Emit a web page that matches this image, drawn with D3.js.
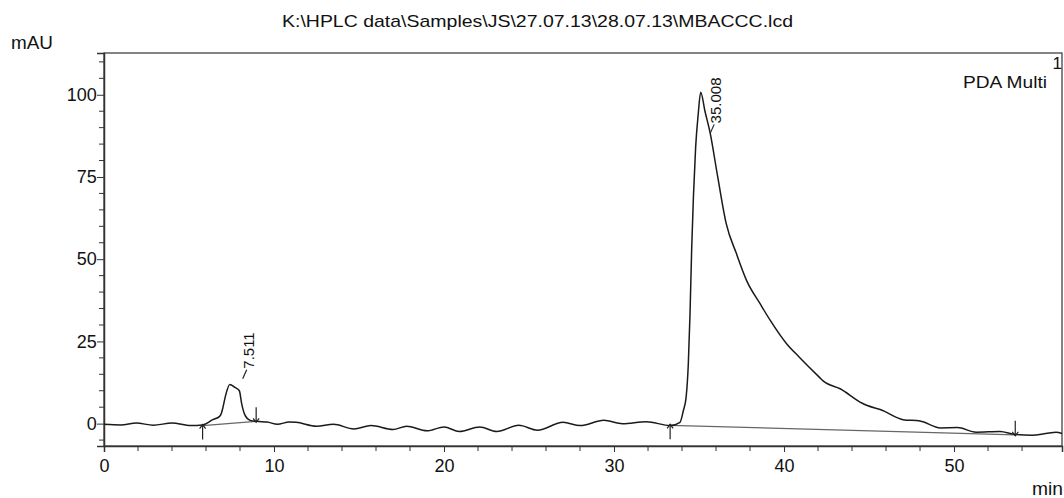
<!DOCTYPE html>
<html>
<head>
<meta charset="utf-8">
<script src="https://cdn.jsdelivr.net/npm/d3@7"></script>
<style>
  body { margin: 0; background: #fff; }
  text { font-family: "Liberation Sans", Arial, sans-serif; fill: #111; }
</style>
</head>
<body>
<div id="chart"></div>
<script>
const timeMin = [0, 1.0, 1.9, 2.9, 4.0, 5.1, 5.8, 6.4, 6.8, 6.9, 7.0, 7.15, 7.4, 7.7, 7.96, 8.1, 8.3, 8.6, 8.98, 9.6, 10.2, 10.9, 11.3, 12.5, 13.5, 14.7, 15.7, 17.0, 17.8, 19.0, 20.0, 20.9, 22.1, 23.1, 24.4, 25.5, 27.0, 28.0, 29.4, 30.5, 31.9, 33.3, 33.88, 34.08, 34.24, 34.37, 34.47, 34.57, 34.67, 34.8, 34.95, 35.1, 35.35, 35.65, 36.1, 36.6, 37.2, 37.8, 38.6, 39.2, 40.15, 40.9, 42.1, 42.3, 43.3, 44.6, 44.9, 45.7, 47.0, 48.0, 49.2, 50.2, 51.3, 52.7, 53.6, 54.6, 55.4, 56.0, 56.35];
const signalMAU = [-0.2, -0.4, 0.2, -0.5, 0.2, -0.6, -0.4, 1.2, 2.2, 3.1, 5.0, 8.5, 11.9, 11.0, 10.0, 6.0, 2.5, 1.0, 0.7, 0.5, -0.2, 0.5, 0.4, -0.8, -0.2, -1.6, -0.6, -1.8, -0.8, -2.2, -1.0, -2.4, -1.0, -2.4, -0.5, -2.0, 0.4, -0.6, 1.0, 0.0, 0.6, -0.6, 0.4, 4.0, 8.0, 18.2, 33.4, 53.6, 68.9, 84.0, 94.0, 100.8, 95.0, 88.5, 75.0, 60.8, 51.7, 43.5, 36.4, 31.3, 24.3, 20.2, 14.0, 13.0, 10.6, 6.2, 5.5, 4.2, 1.2, 0.8, -1.3, -1.2, -2.6, -2.4, -3.3, -3.5, -3.0, -2.6, -3.0];

// lineas base de integracion [t, mAU] inicio y fin
const baseStart = [[5.8, -0.6], [33.3, -0.5]];
const baseEnd = [[8.95, 0.7], [53.6, -3.4]];

// etiquetas de picos
const peakTimes = [7.511, 35.008];
const peakLabels = ["7.511", "35.008"];
const peakLabelY = [16.7, 91.3]; // mAU donde empieza el texto

const xTicks = [0, 10, 20, 30, 40, 50];
const yTicks = [0, 25, 50, 75, 100];

const W = 1064, H = 498;
const MARGIN = { top: 53, bottom: 52, left: 104, right: 2 };

const svg = d3.select("#chart").append("svg").attr("width", W).attr("height", H);

const x = d3.scaleLinear().domain([0, 56.35]).range([MARGIN.left, W - MARGIN.right]);
const y = d3.scaleLinear().domain([-6.8, 112.7]).range([H - MARGIN.bottom, MARGIN.top]);

// marco
svg.append("rect")
  .attr("x", x(0)).attr("y", MARGIN.top)
  .attr("width", x(56.35) - x(0)).attr("height", y(-6.8) - MARGIN.top)
  .attr("fill", "none").attr("stroke", "#333").attr("stroke-width", 1.2);

// eje x
const xAxis = d3.axisBottom(x).tickValues(xTicks).tickSize(6).tickFormat(d3.format("d"));
const gx = svg.append("g").attr("transform", `translate(0,${y(-6.8)})`).call(xAxis);
gx.selectAll(".tick text").attr("font-size", 18).attr("dy", "0.95em").style("font-family", "Liberation Sans, Arial, sans-serif");
gx.append("g").selectAll("line").data(d3.range(2, 56, 2).filter(d => d % 10 !== 0)).join("line")
  .attr("x1", d => x(d)).attr("x2", d => x(d)).attr("y1", 0).attr("y2", 5).attr("stroke", "#333");

// eje y
const yAxis = d3.axisLeft(y).tickValues(yTicks).tickSize(7).tickFormat(d3.format("d"));
const gy = svg.append("g").attr("transform", `translate(${x(0)},0)`).call(yAxis);
gy.selectAll(".tick text").attr("font-size", 18).attr("dx", "0.15em").style("font-family", "Liberation Sans, Arial, sans-serif");
gy.append("g").selectAll("line").data(d3.range(-5, 111, 5).filter(d => d % 25 !== 0)).join("line")
  .attr("x1", -5).attr("x2", 0).attr("y1", d => y(d)).attr("y2", d => y(d)).attr("stroke", "#333");
svg.selectAll(".domain").attr("stroke", "#333").attr("stroke-width", 1.5);
svg.selectAll(".tick line").attr("stroke", "#333");

// lineas base
svg.append("g").selectAll("line").data(baseStart).join("line")
  .attr("x1", d => x(d[0])).attr("y1", d => y(d[1]))
  .attr("x2", (d, i) => x(baseEnd[i][0])).attr("y2", (d, i) => y(baseEnd[i][1]))
  .attr("stroke", "#666").attr("stroke-width", 1.3);

// señal
const line = d3.line().x((d, i) => x(timeMin[i])).y(d => y(d)).curve(d3.curveMonotoneX);
svg.append("path").datum(signalMAU).attr("d", line)
  .attr("fill", "none").attr("stroke", "#1a1a1a").attr("stroke-width", 1.5);

// flechas de integracion
const arrows = svg.append("g").attr("stroke", "#222").attr("fill", "none").attr("stroke-width", 1.2);
baseStart.forEach(d => {
  const px = x(d[0]), py = y(d[1]);
  arrows.append("line").attr("x1", px).attr("x2", px).attr("y1", py - 1).attr("y2", py + 14);
  arrows.append("path").attr("d", `M${px - 3},${py + 3}L${px},${py - 1}L${px + 3},${py + 3}`);
});
baseEnd.forEach(d => {
  const px = x(d[0]), py = y(d[1]);
  arrows.append("line").attr("x1", px).attr("x2", px).attr("y1", py - 14).attr("y2", py + 1);
  arrows.append("path").attr("d", `M${px - 3},${py - 3}L${px},${py + 1}L${px + 3},${py - 3}`);
});

// etiquetas de picos (rotadas)
peakTimes.forEach((t, i) => {
  const px = x(t) + 22, py = y(peakLabelY[i]);
  svg.append("line").attr("x1", px - 11).attr("y1", py + 10).attr("x2", px - 7).attr("y2", py + 1)
    .attr("stroke", "#222").attr("stroke-width", 1.2);
  svg.append("text").attr("transform", `translate(${px},${py}) rotate(-90)`)
    .attr("font-size", 15).text(peakLabels[i]);
});

// textos
svg.append("text").attr("x", 282).attr("y", 27).attr("font-size", 17)
  .attr("textLength", 511).attr("lengthAdjust", "spacingAndGlyphs")
  .text("K:\\HPLC data\\Samples\\JS\\27.07.13\\28.07.13\\MBACCC.lcd");
svg.append("text").attr("x", 11).attr("y", 49).attr("font-size", 18)
  .attr("textLength", 42).attr("lengthAdjust", "spacingAndGlyphs").text("mAU");
svg.append("text").attr("x", 1032).attr("y", 495).attr("font-size", 18)
  .attr("textLength", 31).attr("lengthAdjust", "spacingAndGlyphs").text("min");
svg.append("text").attr("x", 963).attr("y", 88).attr("font-size", 17)
  .attr("textLength", 84).attr("lengthAdjust", "spacingAndGlyphs").text("PDA Multi");
svg.append("text").attr("x", 1062).attr("y", 69).attr("text-anchor", "end").attr("font-size", 17).text("1");
</script>
</body>
</html>
